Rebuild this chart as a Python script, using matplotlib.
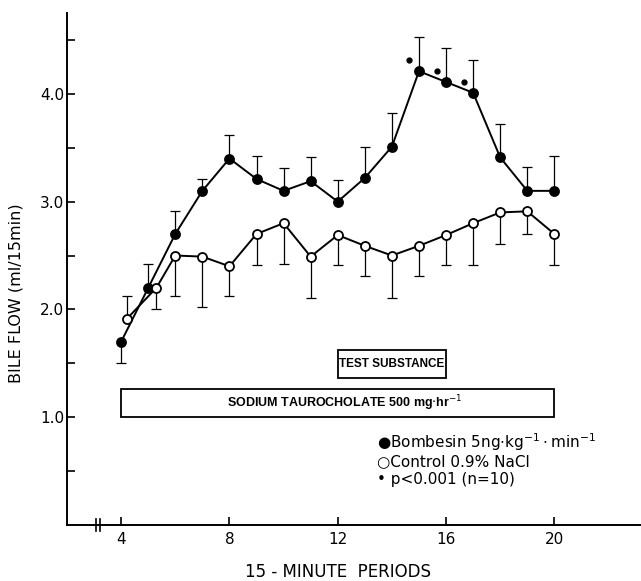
import numpy as np
import matplotlib
matplotlib.use("Agg")
import matplotlib.pyplot as plt

# bombesin (filled) - mean and SE, +1 = bar goes up, -1 = down
bomb_x = [4, 5, 6, 7, 8, 9, 10, 11, 12, 13, 14, 15, 16, 17, 18, 19, 20]
bomb_y = [1.70, 2.20, 2.70, 3.10, 3.40, 3.21, 3.10, 3.19, 3.00, 3.22, 3.51,
          4.21, 4.11, 4.01, 3.41, 3.10, 3.10]
bomb_se = [0.20, 0.22, 0.21, 0.11, 0.22, 0.21, 0.21, 0.22, 0.20, 0.29, 0.31,
           0.32, 0.32, 0.30, 0.31, 0.22, 0.32]
bomb_dir = [-1, 1, 1, 1, 1, 1, 1, 1, 1, 1, 1, 1, 1, 1, 1, 1, 1]

# control 0.9% NaCl (open)
ctrl_x = [4.2, 5.3, 6, 7, 8, 9, 10, 11, 12, 13, 14, 15, 16, 17, 18, 19, 20]
ctrl_y = [1.91, 2.20, 2.50, 2.49, 2.40, 2.70, 2.80, 2.49, 2.69, 2.59, 2.50,
          2.59, 2.69, 2.80, 2.90, 2.91, 2.70]
ctrl_se = [0.21, 0.20, 0.38, 0.47, 0.28, 0.29, 0.38, 0.38, 0.28, 0.28, 0.39,
           0.28, 0.28, 0.39, 0.29, 0.21, 0.29]
ctrl_dir = [1, -1, -1, -1, -1, -1, -1, -1, -1, -1, -1, -1, -1, -1, -1, -1, -1]

# periods with p<0.001
sig_x = [15, 16, 17]

xticks = [4, 8, 12, 16, 20]
yticks = [1.0, 2.0, 3.0, 4.0]
yticks_minor = [0.5, 1.5, 2.5, 3.5, 4.5]

test_span = (12, 16)
taur_span = (4, 20)
axis_break = 3.15

fig = plt.figure(figsize=(6.41, 5.81), dpi=100)
ax = fig.add_axes([0.1045, 0.0964, 0.8955, 0.8812])
ax.set_xlim(2.0, 23.2)
ax.set_ylim(0, 4.75)

for s in ['top', 'right']:
    ax.spines[s].set_visible(False)
for s in ['left', 'bottom']:
    ax.spines[s].set_linewidth(1.4)


def draw_series(x, y, se, d, face):
    x = np.array(x)
    y = np.array(y)
    end = y + np.array(d) * np.array(se)
    ax.vlines(x, y, end, color='black', lw=0.9, zorder=2)
    ax.plot(x, end, ls='none', marker='_', ms=7, mew=0.9, color='black', zorder=2)
    ax.plot(x, y, color='black', lw=1.4, marker='o', ms=6.5,
            mfc=face, mec='black', mew=1.3, zorder=3)


draw_series(bomb_x, bomb_y, bomb_se, bomb_dir, 'black')
draw_series(ctrl_x, ctrl_y, ctrl_se, ctrl_dir, 'white')

# significance dots, just above-left of each point
idx = [bomb_x.index(v) for v in sig_x]
ax.plot(np.array(sig_x) - 0.35, np.array(bomb_y)[idx] + 0.1, ls='none',
        marker='o', ms=3.5, color='black')

# ticks
ax.set_xticks(xticks)
ax.set_xticklabels([str(v) for v in xticks], fontsize=11)
ax.set_yticks(yticks)
ax.set_yticklabels(['%.1f' % v for v in yticks], fontsize=11)
ax.set_yticks(yticks_minor, minor=True)
ax.tick_params(axis='both', which='both', direction='in', length=6, width=1.2)
ax.tick_params(axis='x', pad=5)
ax.tick_params(axis='y', pad=2)

# axis break
xt = ax.get_xaxis_transform()
for dx in (-0.07, 0.07):
    ax.plot([axis_break + dx] * 2, [-0.012, 0.012], color='black', lw=1.2,
            transform=xt, clip_on=False)

ax.set_xlabel('15 - MINUTE  PERIODS', fontsize=12)
ax.xaxis.set_label_coords(0.472, -0.075)
ax.set_ylabel('BILE FLOW (ml/15min)', fontsize=11.5)
ax.yaxis.set_label_coords(-0.075, 0.453)

# infusion boxes
box_font = ['Liberation Sans', 'DejaVu Sans']
ax.add_patch(plt.Rectangle((test_span[0], 1.367), test_span[1] - test_span[0], 0.26,
                           fill=False, lw=1.3, ec='black'))
ax.text(sum(test_span) / 2, 1.497, 'TEST SUBSTANCE', ha='center', va='center',
        fontsize=8.5, fontweight='bold', family=box_font)
ax.add_patch(plt.Rectangle((taur_span[0], 1.0), taur_span[1] - taur_span[0], 0.265,
                           fill=False, lw=1.3, ec='black'))
ax.text(12.25, 1.13, r'SODIUM TAUROCHOLATE 500 mg$\cdot$hr$^{-1}$', ha='center',
        va='center', fontsize=9, fontweight='bold', family=box_font)

# legend as text
ax.text(13.45, 0.765, u'\u25cfBombesin 5ng$\\cdot$kg$^{-1}\\cdot$min$^{-1}$',
        fontsize=11, va='center')
ax.text(13.45, 0.587, u'\u25cbControl 0.9% NaCl', fontsize=11, va='center')
ax.text(13.45, 0.42, u'\u2022 p<0.001 (n=10)', fontsize=11, va='center')

fig.savefig('out.png', dpi=100)
